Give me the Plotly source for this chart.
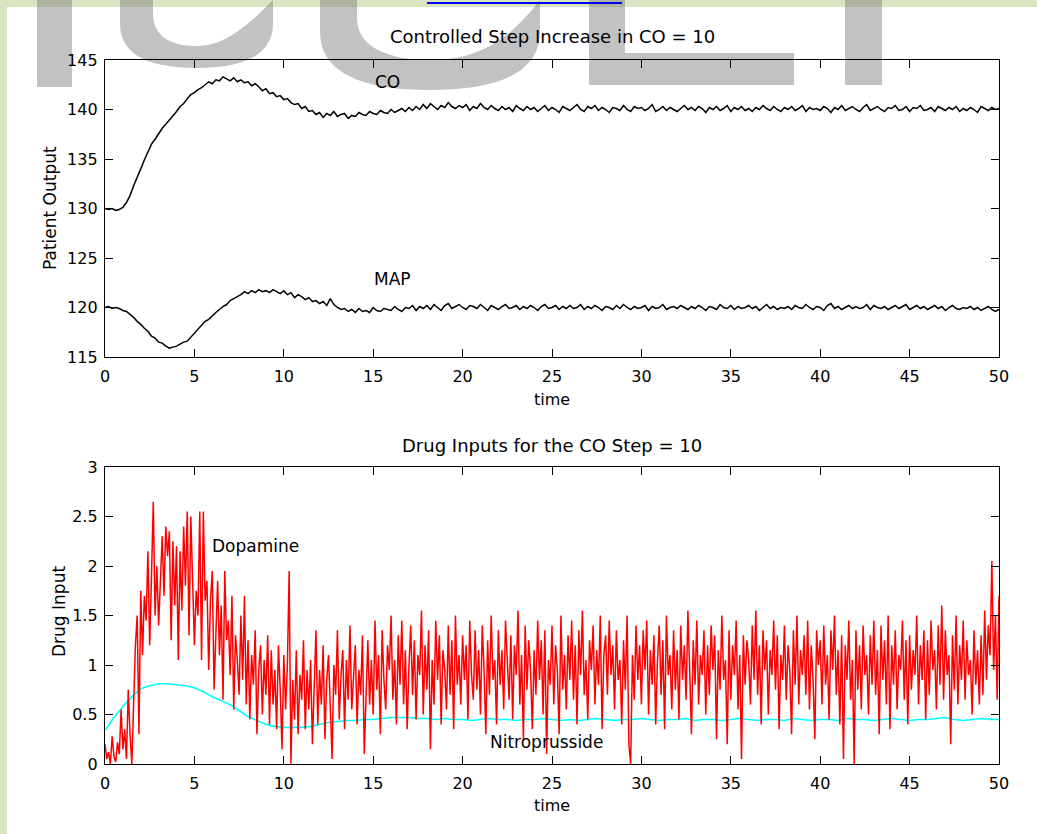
import plotly.graph_objects as go

# ---------------- data ----------------
CO_DT = 0.2
CO_VALUES = [
    130.0,129.9,130.0,129.8,129.9,130.1,130.6,131.3,132.3,133.1,
    134.0,134.9,135.8,136.5,137.0,137.6,138.1,138.5,138.9,139.4,
    139.8,140.3,140.6,141.1,141.5,141.7,142.0,142.2,142.5,142.8,
    142.6,143.0,142.9,143.3,143.1,142.9,143.2,142.8,143.0,142.7,
    142.8,142.4,142.6,142.3,141.9,142.1,141.6,141.7,141.3,141.4,
    141.0,141.1,140.7,140.5,140.6,140.1,140.3,139.8,139.9,139.5,
    139.7,139.2,139.6,139.4,139.8,139.3,139.5,139.6,139.1,139.4,
    139.3,139.7,139.5,139.4,139.8,139.6,139.5,139.9,139.7,139.6,
    140.0,139.7,139.9,140.1,139.8,140.2,139.9,140.3,140.0,140.5,
    140.1,140.6,140.3,140.0,140.4,140.2,140.7,140.3,140.1,140.4,
    140.2,140.5,139.9,140.3,140.1,140.6,140.2,140.0,140.4,140.1,
    139.9,140.3,140.0,140.2,139.8,140.4,140.1,139.9,140.3,140.0,
    140.2,139.8,140.1,140.4,139.9,140.2,140.0,139.7,140.3,140.1,
    139.9,140.2,140.5,140.0,139.8,140.3,140.1,140.4,139.9,140.2,
    140.0,139.7,140.2,140.1,139.9,140.4,140.0,139.8,140.3,140.1,
    140.2,139.9,140.1,140.5,139.8,140.0,140.3,139.9,140.2,140.0,
    139.8,140.1,140.4,140.0,140.2,139.9,140.3,140.1,139.7,140.2,
    140.0,140.3,139.9,140.1,140.4,139.8,140.2,140.0,140.3,139.9,
    140.1,139.8,140.2,140.0,140.4,140.1,139.9,140.3,140.0,139.8,
    140.2,140.0,140.3,139.9,140.1,140.4,139.8,140.2,140.0,140.1,
    139.9,140.3,140.1,139.7,140.2,140.0,140.4,139.9,140.1,140.3,
    140.0,139.8,140.2,140.5,139.9,140.1,140.3,140.0,139.8,140.2,
    140.1,140.4,139.9,140.0,140.3,139.8,140.2,140.1,140.4,139.9,
    140.0,140.2,139.8,140.3,140.1,139.9,140.2,140.0,140.3,139.8,
    140.1,139.9,140.2,140.0,139.7,140.3,140.1,139.9,140.2,140.0,
    140.1,
]
MAP_VALUES = [
    120.0,120.1,119.9,120.0,119.9,119.7,119.6,119.3,119.0,118.6,
    118.3,117.9,117.6,117.1,116.9,116.5,116.4,116.1,115.9,116.0,
    116.1,116.3,116.5,116.6,117.0,117.5,117.9,118.2,118.6,118.8,
    119.2,119.5,119.8,120.1,120.3,120.7,120.9,121.1,121.3,121.6,
    121.4,121.7,121.5,121.8,121.6,121.7,121.5,121.8,121.6,121.4,
    121.7,121.3,121.5,121.0,121.3,121.1,120.8,121.0,120.6,120.7,
    120.4,120.6,120.2,120.9,120.3,120.0,119.8,119.9,119.6,119.8,
    119.5,119.9,119.6,119.7,119.5,120.0,119.7,119.6,119.9,119.8,
    119.7,120.1,119.8,119.6,120.0,119.9,120.2,119.7,120.1,119.9,
    120.2,119.8,120.3,120.0,119.7,120.2,120.4,119.9,120.1,120.3,
    120.0,119.8,120.2,120.1,119.9,120.3,120.0,119.7,120.2,120.0,
    119.8,120.1,120.3,119.9,120.0,120.2,119.8,120.1,119.9,120.2,
    120.0,119.7,120.1,120.3,119.9,120.0,120.2,119.8,120.1,119.9,
    120.2,119.9,120.0,120.3,119.8,120.1,119.9,120.2,120.0,119.7,
    120.1,120.0,119.8,120.2,119.9,120.3,120.0,119.8,120.1,119.9,
    120.0,120.2,119.7,120.1,119.9,120.0,120.3,119.8,120.0,120.1,
    119.9,120.2,120.0,119.8,120.1,119.9,120.2,120.0,119.7,120.1,
    120.0,119.8,120.3,120.0,119.9,120.2,119.8,120.1,119.9,120.0,
    120.2,119.9,120.1,119.7,120.0,120.3,119.9,120.1,119.8,120.0,
    119.9,120.1,119.8,120.2,120.0,119.9,120.3,120.0,119.8,120.1,
    120.0,119.7,120.2,120.4,119.9,120.1,119.8,120.0,120.2,119.9,
    120.1,119.9,120.0,120.3,119.8,120.2,120.0,119.9,120.1,119.8,
    120.0,120.2,119.9,120.1,120.3,119.8,120.0,120.2,119.9,120.1,
    119.8,120.0,120.2,119.9,120.1,119.7,120.0,120.2,119.9,119.8,
    120.0,119.9,120.1,119.8,120.0,119.7,119.9,120.1,119.8,119.6,
    119.8,
]

DOPA_DT = 0.1
DOPAMINE = [
    0.20,0.05,0.12,0.00,0.28,0.08,0.02,0.22,0.10,0.55,
    0.15,0.35,0.05,0.75,0.30,0.00,0.60,1.20,1.50,0.30,
    1.75,1.10,1.70,1.45,2.15,1.20,1.90,2.65,1.50,2.00,
    1.40,1.95,2.30,1.70,2.40,2.10,2.35,1.25,2.25,1.60,
    2.20,1.05,2.15,1.55,2.40,1.80,2.55,1.30,2.50,1.85,
    1.20,1.75,1.50,2.55,1.05,2.55,1.65,1.85,0.95,1.65,
    1.95,0.75,1.40,1.85,1.10,1.60,0.65,1.95,1.25,1.45,
    0.90,1.70,0.55,1.30,1.05,0.70,1.50,0.85,1.70,0.60,
    1.25,0.45,1.10,0.80,1.35,0.30,0.95,1.20,0.50,1.05,
    0.70,1.30,0.40,1.15,0.60,0.95,0.35,1.20,0.75,0.15,
    1.10,0.55,1.00,1.95,0.00,0.85,0.45,1.15,0.30,0.90,
    0.65,1.25,0.35,0.95,0.55,1.05,0.20,0.80,1.35,0.40,
    0.95,0.60,1.20,0.25,0.85,1.10,0.50,0.05,1.00,0.70,
    1.35,0.45,0.90,1.15,0.35,1.05,0.65,1.40,0.55,0.85,
    1.20,0.40,0.95,0.70,1.30,0.10,0.80,1.25,0.60,1.05,
    0.50,1.45,0.75,1.10,0.30,1.35,0.85,0.55,1.20,0.95,
    1.50,0.65,1.05,0.40,1.30,0.80,1.45,0.60,1.15,0.35,
    1.00,1.40,0.70,1.25,0.45,1.10,0.90,1.55,0.50,1.20,
    0.75,1.35,0.15,1.05,0.60,1.45,0.85,1.30,0.40,1.15,
    0.95,0.55,1.40,0.70,1.25,0.35,1.50,0.80,1.10,0.60,
    1.30,0.85,1.20,0.45,1.45,0.90,0.65,1.35,0.75,1.15,
    0.50,1.40,0.95,0.30,1.25,0.70,1.50,0.85,1.05,0.40,
    1.35,0.80,1.15,0.55,1.45,1.00,0.65,1.30,0.45,1.20,
    0.90,1.55,0.60,1.10,0.25,1.40,0.75,1.25,0.95,0.35,
    1.15,0.70,1.45,0.85,1.25,0.50,1.35,0.10,1.05,0.80,
    1.40,0.60,1.20,0.95,0.30,1.50,0.75,1.10,0.55,1.30,
    0.85,1.45,0.65,1.20,0.40,1.35,0.90,1.55,0.70,1.05,
    0.45,1.25,0.95,1.40,0.60,1.15,0.80,1.50,0.35,1.10,
    1.30,0.70,1.45,0.90,1.20,0.55,1.35,0.85,1.05,0.40,
    1.25,0.75,1.50,0.20,0.00,1.10,0.65,1.40,0.85,1.20,
    0.60,1.35,0.95,1.45,0.50,1.15,0.80,1.30,0.40,1.05,
    1.40,0.70,1.25,0.35,1.50,0.90,1.10,0.55,1.35,0.75,
    1.15,0.45,1.40,0.85,1.20,0.65,1.55,0.95,0.30,1.25,
    0.80,1.45,0.60,1.10,0.90,1.35,0.50,1.20,0.70,1.40,
    0.95,1.30,0.25,1.15,0.75,1.50,0.85,1.05,0.20,1.35,
    0.65,1.20,0.90,1.45,0.55,1.10,0.05,1.30,0.80,1.25,
    1.05,0.60,1.40,0.85,1.55,0.70,1.20,0.40,1.35,0.95,
    1.25,0.50,1.15,0.90,1.45,0.75,1.30,0.35,1.10,0.85,
    1.40,0.65,1.20,0.95,0.30,1.35,0.80,1.50,0.60,1.15,
    0.90,1.30,0.70,1.45,0.55,1.20,0.85,0.25,1.35,1.00,
    1.25,0.60,1.40,0.80,1.10,0.45,1.35,0.95,1.50,0.70,
    1.15,0.40,1.30,0.05,1.20,0.85,1.45,0.65,1.05,0.00,
    1.35,0.75,1.20,0.55,1.40,0.90,1.10,0.50,1.30,0.80,
    1.45,0.70,1.15,0.30,1.40,0.85,1.25,0.60,1.50,0.35,
    1.20,0.80,1.35,0.55,1.10,0.95,1.45,0.65,1.25,0.40,
    1.30,0.75,1.15,0.90,1.50,0.60,1.20,0.85,1.35,0.45,
    1.25,0.70,1.45,0.95,1.15,0.55,1.40,0.80,1.60,0.65,
    1.35,0.90,1.10,0.20,1.30,0.75,1.50,0.60,1.20,0.85,
    1.45,0.65,1.25,0.90,1.05,0.50,1.35,0.80,1.15,0.60,
    1.30,0.70,1.55,0.85,1.40,1.10,2.05,0.95,1.50,0.65,
    1.70,
]

NITRO_DT = 0.5
NITROPRUSSIDE = [
    0.34,0.47,0.58,0.68,0.76,0.79,0.81,0.81,0.80,0.79,
    0.77,0.73,0.68,0.64,0.60,0.54,0.48,0.44,0.40,0.38,
    0.37,0.37,0.37,0.38,0.40,0.42,0.43,0.44,0.44,0.45,
    0.45,0.46,0.47,0.47,0.47,0.46,0.46,0.45,0.46,0.45,
    0.45,0.44,0.45,0.46,0.45,0.45,0.44,0.45,0.45,0.46,
    0.45,0.44,0.45,0.44,0.45,0.46,0.45,0.44,0.45,0.45,
    0.46,0.45,0.44,0.45,0.45,0.46,0.44,0.45,0.45,0.44,
    0.45,0.46,0.45,0.44,0.45,0.45,0.44,0.46,0.45,0.44,
    0.45,0.45,0.44,0.46,0.45,0.45,0.44,0.45,0.46,0.45,
    0.44,0.45,0.45,0.46,0.47,0.45,0.44,0.45,0.46,0.45,
    0.45,
]

X_TICKS = [0, 5, 10, 15, 20, 25, 30, 35, 40, 45, 50]
Y1_TICKS = [115, 120, 125, 130, 135, 140, 145]
Y2_TICKS = [0, 0.5, 1, 1.5, 2, 2.5, 3]
Y2_TICK_TEXT = ["0", "0.5", "1", "1.5", "2", "2.5", "3"]

TITLE_TOP = "Controlled Step Increase in CO = 10"
TITLE_BOTTOM = "Drug Inputs for the CO Step = 10"

# ---------------- figure ----------------
W, H = 1037, 834
L, R, T, B = 105, 38, 60, 70
PW, PH = W - L - R, H - T - B


def px(x, y):
    """pixel -> paper coordinates"""
    return (x - L) / PW, (H - B - y) / PH


def times(n, dt):
    return [round(i * dt, 3) for i in range(n)]


FONT = "DejaVu Sans"
fig = go.Figure()

fig.add_trace(go.Scatter(x=times(len(CO_VALUES), CO_DT), y=CO_VALUES, mode="lines",
                         line=dict(color="black", width=1.5), xaxis="x", yaxis="y",
                         showlegend=False))
fig.add_trace(go.Scatter(x=times(len(MAP_VALUES), CO_DT), y=MAP_VALUES, mode="lines",
                         line=dict(color="black", width=1.5), xaxis="x", yaxis="y",
                         showlegend=False))
fig.add_trace(go.Scatter(x=times(len(NITROPRUSSIDE), NITRO_DT), y=NITROPRUSSIDE, mode="lines",
                         line=dict(color="#00ffff", width=1.6), xaxis="x2", yaxis="y2",
                         showlegend=False))
fig.add_trace(go.Scatter(x=times(len(DOPAMINE), DOPA_DT), y=DOPAMINE, mode="lines",
                         line=dict(color="#ff0000", width=1.5), xaxis="x2", yaxis="y2",
                         showlegend=False))

axis_common = dict(showline=True, linecolor="black", linewidth=1.3, mirror="ticks",
                   ticks="inside", ticklen=8, tickwidth=1.3, tickcolor="black",
                   showgrid=False, zeroline=False,
                   tickfont=dict(family=FONT, size=16, color="black"))

_, y1b = px(0, 357)
_, y2t = px(0, 467)
fig.update_layout(
    width=W, height=H,
    margin=dict(l=L, r=R, t=T, b=B),
    paper_bgcolor="white",
    plot_bgcolor="rgba(0,0,0,0)",
    xaxis=dict(domain=[0, 1], range=[0, 50], tickvals=X_TICKS, anchor="y",
               ticklabelstandoff=5, **axis_common),
    yaxis=dict(domain=[y1b, 1], range=[115, 145], tickvals=Y1_TICKS, anchor="x",
               ticklabelstandoff=3, **axis_common),
    xaxis2=dict(domain=[0, 1], range=[0, 50], tickvals=X_TICKS, anchor="y2",
                ticklabelstandoff=5, **axis_common),
    yaxis2=dict(domain=[0, y2t], range=[0, 3], tickvals=Y2_TICKS, ticktext=Y2_TICK_TEXT,
                anchor="x2", ticklabelstandoff=3, **axis_common),
)

# ---------------- texts ----------------
def ptext(text, x, y, size=17, angle=0):
    xp, yp = px(x, y)
    fig.add_annotation(text=text, xref="paper", yref="paper", x=xp, y=yp,
                       showarrow=False, textangle=angle, xanchor="center", yanchor="middle",
                       font=dict(family=FONT, size=size, color="black"))


ptext(TITLE_TOP, 552, 37, size=18)
ptext(TITLE_BOTTOM, 552, 445, size=18)
ptext("time", 552, 399, size=16)
ptext("time", 552, 805, size=16)
ptext("Patient Output", 50, 208, angle=-90)
ptext("Drug Input", 59, 612, angle=-90)

fig.add_annotation(text="CO", x=15.8, y=142.8, xref="x", yref="y", showarrow=False,
                   font=dict(family=FONT, size=17, color="black"))
fig.add_annotation(text="MAP", x=16.1, y=122.9, xref="x", yref="y", showarrow=False,
                   font=dict(family=FONT, size=17, color="black"))
fig.add_annotation(text="Dopamine", x=5.9, y=2.2, xref="x2", yref="y2", showarrow=False,
                   xanchor="left", font=dict(family=FONT, size=17, color="black"))
fig.add_annotation(text="Nitroprusside", x=21.4, y=0.22, xref="x2", yref="y2", showarrow=False,
                   xanchor="left", font=dict(family=FONT, size=17, color="black"))

# ---------------- page decoration (green frame + watermark) ----------------
GREEN = "rgb(217,228,192)"
WM = "rgba(120,120,120,0.45)"


def prect(x0, y0, x1, y1, color):
    a, b = px(x0, y0)
    c, d = px(x1, y1)
    fig.add_shape(type="rect", xref="paper", yref="paper", x0=a, y0=b, x1=c, y1=d,
                  fillcolor=color, line=dict(width=0), layer="below")


def ppath(points_cmds, color):
    parts = []
    for cmd, pts in points_cmds:
        coords = " ".join(f"{px(x, y)[0]:.5f},{px(x, y)[1]:.5f}" for x, y in pts)
        parts.append(f"{cmd} {coords}")
    fig.add_shape(type="path", xref="paper", yref="paper", path=" ".join(parts) + " Z",
                  fillcolor=color, line=dict(width=0), layer="below")


prect(0, 0, W, 7, GREEN)
prect(0, 7, 7, H, GREEN)


def upath(xo0, xo1, yo, xi0, xi1, yi):
    cx = (xo0 + xo1) / 2
    ci = (xi0 + xi1) / 2
    return [
        ("M", [(xo0, 0)]),
        ("L", [(xo0, yo * 0.35)]),
        ("C", [(xo0, yo * 0.85), (xo0 + (cx - xo0) * 0.45, yo), (cx, yo)]),
        ("C", [(xo1 - (xo1 - cx) * 0.45, yo), (xo1, yo * 0.85), (xo1, yo * 0.35)]),
        ("L", [(xo1, 0), (xi1, 0), (xi1, yi * 0.3)]),
        ("C", [(xi1, yi * 0.8), (xi1 - (xi1 - ci) * 0.45, yi), (ci, yi)]),
        ("C", [(xi0 + (ci - xi0) * 0.45, yi), (xi0, yi * 0.8), (xi0, yi * 0.3)]),
        ("L", [(xi0, 0)]),
    ]


prect(37, 0, 72, 87, WM)
ppath(upath(120, 273, 68, 153, 237, 46), WM)
ppath(upath(320, 540, 90, 357, 503, 60), WM)
prect(589, 0, 625, 85, WM)
prect(625, 53, 794, 85, WM)
prect(845, 0, 882, 85, WM)
ppath([("M", [(987, 0)]), ("L", [(1037, 0), (1037, 80)])], WM)

a0, b0 = px(427, 3)
a1, _ = px(622, 3)
fig.add_shape(type="line", xref="paper", yref="paper", x0=a0, y0=b0, x1=a1, y1=b0,
              line=dict(color="#0000ee", width=2), layer="above")

fig.write_html("out.html", config={"displayModeBar": False},
               post_script="document.body.style.margin='0';")
